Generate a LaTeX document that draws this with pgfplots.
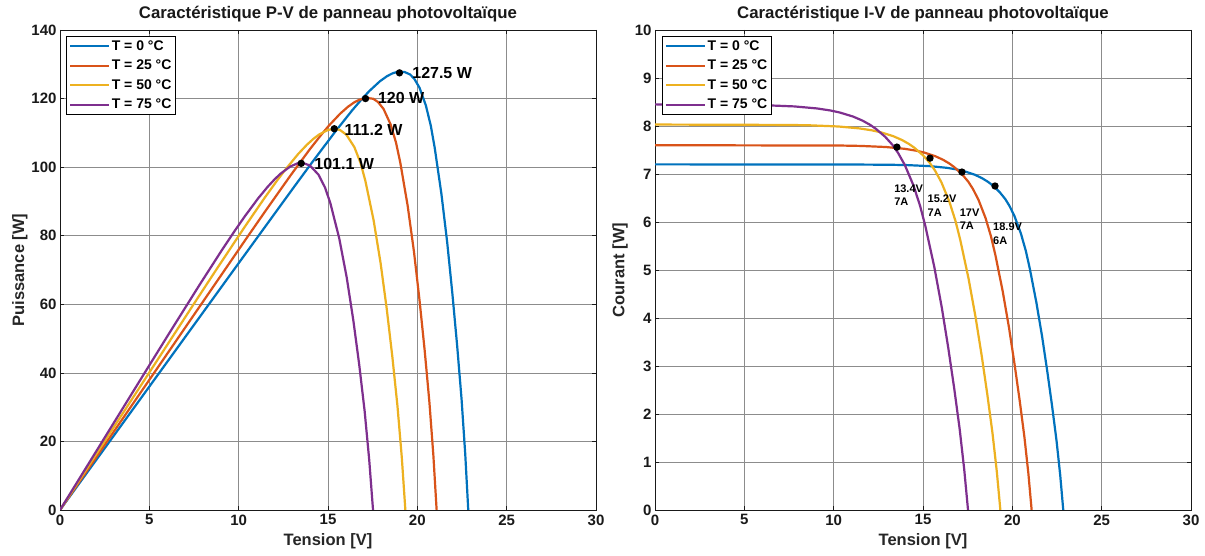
\documentclass[border=0pt]{standalone}
\usepackage{pgfplots}
\usepackage{pgfplotstable}
\pgfplotsset{compat=1.18}
\usepackage{fontspec}
\setmainfont{Liberation Sans}
\definecolor{mblue}{RGB}{0,114,189}
\definecolor{morange}{RGB}{217,83,25}
\definecolor{myellow}{RGB}{237,177,32}
\definecolor{mpurple}{RGB}{126,47,142}

% columns: V  I  P
\pgfplotstableread{
V I P
0 7.2 0
10 7.1992 71.99
13.103 7.1928 94.25
14.081 7.1856 101.18
15.374 7.164 110.14
16.352 7.128 116.56
16.924 7.092 120.03
17.330 7.056 122.28
17.902 6.984 125.03
18.308 6.912 126.55
18.623 6.84 127.38
18.880 6.768 127.78
19.286 6.624 127.75
19.601 6.48 127.01
19.838 6.336 125.69
20.123 6.12 123.15
20.479 5.76 117.96
20.754 5.40 112.07
20.971 5.04 105.69
21.347 4.32 92.22
21.672 3.60 78.02
21.959 2.88 63.24
22.227 2.16 48.01
22.475 1.44 32.36
22.681 0.72 16.33
22.85 0 0
}\tzero
\pgfplotstableread{
V I P
0 7.6 0
10.442 7.5924 79.28
11.510 7.5848 87.30
12.921 7.562 97.71
13.988 7.524 105.25
14.613 7.486 109.39
15.056 7.448 112.14
15.680 7.372 115.59
16.123 7.296 117.63
16.467 7.22 118.89
16.747 7.144 119.64
17.190 6.992 120.19
17.534 6.84 119.93
17.795 6.688 119.01
18.108 6.46 116.98
18.502 6.08 112.49
18.805 5.70 107.19
19.046 5.32 101.32
19.459 4.56 88.73
19.813 3.80 75.29
20.123 3.04 61.17
20.411 2.28 46.54
20.676 1.52 31.43
20.898 0.76 15.88
21.08 0 0
}\ttwentyfive
\pgfplotstableread{
V I P
0 8.03 0
7.504 8.022 60.20
8.691 8.0139 69.65
10.259 7.9899 81.97
11.446 7.9497 90.99
12.140 7.9096 96.02
12.633 7.8694 99.41
13.327 7.7891 103.81
13.819 7.7088 106.53
14.201 7.6285 108.33
14.513 7.5482 109.55
15.006 7.3876 110.86
15.388 7.227 111.21
15.680 7.0664 110.80
16.032 6.8255 109.43
16.475 6.424 105.84
16.817 6.0225 101.28
17.089 5.621 96.06
17.551 4.818 84.56
17.943 4.015 72.04
18.286 3.212 58.73
18.599 2.409 44.81
18.888 1.606 30.33
19.130 0.803 15.36
19.33 0 0
}\tfifty
\pgfplotstableread{
V I P
0 8.45 0
4.844 8.4416 40.89
6.116 8.4331 51.58
7.798 8.4078 65.56
9.070 8.3655 75.87
9.814 8.3233 81.68
10.341 8.281 85.63
11.086 8.1965 90.87
11.613 8.112 94.20
12.023 8.0275 96.51
12.357 7.943 98.15
12.885 7.774 100.17
13.295 7.605 101.11
13.609 7.436 101.20
13.989 7.1825 100.48
14.467 6.76 97.80
14.836 6.3375 94.02
15.131 5.915 89.50
15.629 5.07 79.24
16.048 4.225 67.80
16.413 3.38 55.48
16.746 2.535 42.45
17.051 1.69 28.82
17.307 0.845 14.62
17.52 0 0
}\tseventyfive

\pgfplotsset{
  mlab/.style={
    scale only axis, width=536pt, height=480pt,
    anchor=south west,
    xmin=0, xmax=30, xtick={0,5,...,30},
    grid=major,
    major grid style={black!45, line width=0.5pt},
    axis line style={black!90, line width=0.8pt},
    tick style={black!90, line width=0.6pt},
    major tick length=4pt,
    tick align=inside,
    /pgf/number format/assume math mode=true,
    tick label style={font=\fontsize{15}{18}\selectfont\bfseries, text=black!90},
    xticklabel style={yshift=-1pt},
    label style={font=\fontsize{16.5}{20}\selectfont\bfseries, text=black!85},
    x label style={at={(axis description cs:0.5,-0.065)}, anchor=center},
    legend cell align=left,
    legend image code/.code={\draw[#1, line width=2.2pt] (0pt,0pt) -- (39pt,0pt);},
    legend style={anchor=north west, draw=black, line width=0.8pt,
      font=\fontsize{14}{16}\selectfont\bfseries, inner sep=2.5pt, row sep=5.3pt,
      nodes={inner sep=1.5pt}},
    every axis plot/.append style={line width=2.2pt},
  }
}

\begin{document}
\begin{tikzpicture}
\useasboundingbox (0pt,0pt) rectangle (1205pt,556pt);
\fill[white] (0pt,0pt) rectangle (1205pt,556pt);

% ---------- P-V ----------
\begin{axis}[mlab, at={(60pt,46pt)},
  ymin=0, ymax=140, ytick={0,20,...,140},
  xlabel={Tension [V]}, ylabel={Puissance [W]},
  y label style={at={(axis description cs:-0.075,0.5)}, anchor=center, rotate=0},
  legend style={at={(0.0115,0.9875)}},
]
\addplot[mblue, no markers] table[x=V, y=P] {\tzero};
\addlegendentry{T = 0 °C}
\addplot[morange, no markers] table[x=V, y=P] {\ttwentyfive};
\addlegendentry{T = 25 °C}
\addplot[myellow, no markers] table[x=V, y=P] {\tfifty};
\addlegendentry{T = 50 °C}
\addplot[mpurple, no markers] table[x=V, y=P] {\tseventyfive};
\addlegendentry{T = 75 °C}
\addplot[only marks, mark=*, mark size=2.5pt, black, forget plot] coordinates {(19.0,127.5) (17.1,120) (15.35,111.2) (13.5,101.1)};
\node[anchor=west, inner sep=0pt, font=\fontsize{16}{19}\selectfont\bfseries] at (axis cs:19.71,127.4) {127.5 W};
\node[anchor=west, inner sep=0pt, font=\fontsize{16}{19}\selectfont\bfseries] at (axis cs:17.79,120.1) {120 W};
\node[anchor=west, inner sep=0pt, font=\fontsize{16}{19}\selectfont\bfseries] at (axis cs:15.92,111.0) {111.2 W};
\node[anchor=west, inner sep=0pt, font=\fontsize{16}{19}\selectfont\bfseries] at (axis cs:14.23,100.9) {101.1 W};
\end{axis}

% ---------- I-V ----------
\begin{axis}[mlab, at={(655pt,46pt)},
  ymin=0, ymax=10, ytick={0,1,...,10},
  xlabel={Tension [V]}, ylabel={Courant [W]},
  y label style={at={(axis description cs:-0.065,0.5)}, anchor=center, rotate=0},
  legend style={at={(0.013,0.9875)}},
]
\addplot[mblue, no markers] table[x=V, y=I] {\tzero};
\addlegendentry{T = 0 °C}
\addplot[morange, no markers] table[x=V, y=I] {\ttwentyfive};
\addlegendentry{T = 25 °C}
\addplot[myellow, no markers] table[x=V, y=I] {\tfifty};
\addlegendentry{T = 50 °C}
\addplot[mpurple, no markers] table[x=V, y=I] {\tseventyfive};
\addlegendentry{T = 75 °C}
\addplot[only marks, mark=*, mark size=2.5pt, black, forget plot] coordinates {(13.54,7.56) (15.39,7.33) (17.18,7.04) (19.03,6.75)};
\node[align=left, anchor=west, inner sep=0pt, font=\fontsize{11}{13.5}\selectfont\bfseries] at (axis cs:13.38,6.56) {13.4V\\7A};
\node[align=left, anchor=west, inner sep=0pt, font=\fontsize{11}{13.5}\selectfont\bfseries] at (axis cs:15.25,6.34) {15.2V\\7A};
\node[align=left, anchor=west, inner sep=0pt, font=\fontsize{11}{13.5}\selectfont\bfseries] at (axis cs:17.05,6.06) {17V\\7A};
\node[align=left, anchor=west, inner sep=0pt, font=\fontsize{11}{13.5}\selectfont\bfseries] at (axis cs:18.92,5.76) {18.9V\\6A};
\end{axis}

\node[anchor=center, inner sep=0pt, font=\fontsize{16.8}{20}\selectfont\bfseries, text=black!90] at (328pt,542pt) {Caractéristique P-V de panneau photovoltaïque};
\node[anchor=center, inner sep=0pt, font=\fontsize{16.8}{20}\selectfont\bfseries, text=black!90] at (923pt,542pt) {Caractéristique I-V de panneau photovoltaïque};
\end{tikzpicture}
\end{document}
